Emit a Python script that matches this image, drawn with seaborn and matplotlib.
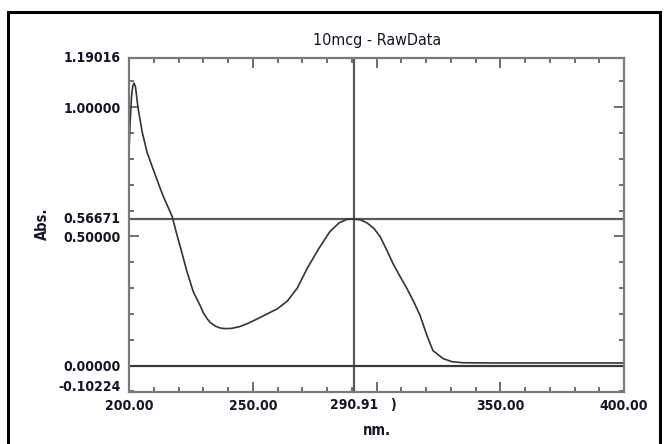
import matplotlib
matplotlib.use("Agg")
import matplotlib.pyplot as plt
import matplotlib.patches as mpatches
import matplotlib.transforms as mtransforms
from matplotlib.ticker import MultipleLocator, FixedLocator
import seaborn as sns
import pandas as pd

# ---- data ----
wavelength = [200.0, 200.4, 201.0, 201.5, 202.0, 202.6, 203.6, 204.5, 205.3, 207.3,
              210.5, 213.7, 217.4, 219.4, 221.5, 223.4, 226.0, 228.7, 230.0, 231.5,
              233.0, 235.0, 237.0, 239.0, 241.5, 244.8, 248.0, 251.7, 255.0, 260.0,
              264.0, 268.0, 272.0, 276.5, 281.2, 285.0, 288.1, 290.91, 293.5, 296.2,
              299.0, 301.4, 304.0, 306.7, 309.5, 312.3, 315.0, 317.6, 320.4, 322.8,
              326.9, 330.5, 335.0, 350.0, 375.0, 400.0]
absorbance = [0.83, 0.93, 1.04, 1.08, 1.093, 1.08, 1.00, 0.95, 0.905, 0.825,
              0.740, 0.658, 0.578, 0.505, 0.432, 0.364, 0.285, 0.233, 0.205, 0.182,
              0.165, 0.152, 0.145, 0.143, 0.144, 0.151, 0.163, 0.180, 0.196, 0.220,
              0.250, 0.300, 0.376, 0.450, 0.519, 0.553, 0.566, 0.56671, 0.564, 0.552,
              0.530, 0.500, 0.450, 0.394, 0.345, 0.298, 0.248, 0.194, 0.116, 0.058,
              0.027, 0.015, 0.011, 0.010, 0.010, 0.010]

title = "10mcg - RawData"
cursor_x = 290.91
cursor_y = 0.56671
y_min, y_max = -0.10224, 1.19016
x_min, x_max = 200.0, 400.0
x_major = [200, 250, 300, 350, 400]
x_labels = ["200.00", "250.00", "", "350.00", "400.00"]
y_major = [0.0, 0.5, 1.0]
y_labels = ["0.00000", "0.50000", "1.00000"]

df = pd.DataFrame({"nm": wavelength, "Abs": absorbance})

sns.set_style("ticks")
plt.rcParams["font.family"] = ["DejaVu Sans"]
plt.rcParams["font.stretch"] = "condensed"

W, H = 665, 444
fig = plt.figure(figsize=(W / 100, H / 100), dpi=100)
ax = fig.add_axes([129 / W, 1 - 392 / H, 495 / W, 334 / H])

sns.lineplot(data=df, x="nm", y="Abs", ax=ax, color="#333333", lw=1.2, sort=False)

ax.set_xlim(x_min, x_max)
ax.set_ylim(y_min, y_max)

ax.axvline(cursor_x, color="#5a5a5a", lw=1.6, zorder=1)
ax.axhline(cursor_y, color="#5a5a5a", lw=1.6, zorder=1)
ax.axhline(0.0, color="#3a3a3a", lw=1.6, zorder=1)

for s in ax.spines.values():
    s.set_color("#7a7a7a")
    s.set_linewidth(1.6)

ax.xaxis.set_major_locator(FixedLocator(x_major))
ax.set_xticklabels(x_labels)
ax.xaxis.set_minor_locator(MultipleLocator(10))
ax.yaxis.set_major_locator(FixedLocator(y_major))
ax.set_yticklabels(y_labels)
ax.yaxis.set_minor_locator(MultipleLocator(0.1))

ax.tick_params(which="both", direction="in", top=True, right=True,
               color="#555555", width=1.2)
ax.tick_params(which="major", length=7)
ax.tick_params(which="minor", length=3.5)
ax.tick_params(axis="y", which="major", pad=6)
ax.tick_params(axis="x", which="major", pad=5)
FS = 10
for lab in ax.get_xticklabels() + ax.get_yticklabels():
    lab.set_fontweight("bold")
    lab.set_fontsize(FS)
    lab.set_fontstretch("condensed")
    lab.set_color("#151525")

ax.set_xlabel("")
ax.set_ylabel("")

ytr = mtransforms.blended_transform_factory(ax.transAxes, ax.transData)
xtr = mtransforms.blended_transform_factory(ax.transData, ax.transAxes)
lab_kw = dict(fontweight="bold", fontsize=FS, color="#151525", fontstretch="condensed")
ax.text(-0.0165, y_max, "1.19016", transform=ytr, ha="right", va="center", **lab_kw)
ax.text(-0.0165, cursor_y, "0.56671", transform=ytr, ha="right", va="center", **lab_kw)
ax.text(-0.0165, y_min + 0.02, "-0.10224", transform=ytr, ha="right", va="center", **lab_kw)
ax.text(cursor_x, -0.019, "290.91", transform=xtr, ha="center", va="top", **lab_kw)
ax.text(306.6, -0.019, ")", transform=xtr, ha="center", va="top", **lab_kw)

fig.text(377 / W, 1 - 40 / H, title, ha="center", va="center", fontsize=11.5,
         fontstretch="condensed", color="#151525")
fig.text(377 / W, 1 - 430 / H, "nm.", ha="center", va="center", fontsize=10.5,
         fontweight="bold", fontstretch="condensed", color="#151525")
fig.text(42 / W, 1 - 224 / H, "Abs.", ha="center", va="center", rotation=90,
         fontsize=10.5, fontweight="bold", fontstretch="condensed", color="#151525")

frame = mpatches.Rectangle((8 / W, -0.05), (660 - 8) / W, 1.05 - 12 / H,
                           transform=fig.transFigure, fill=False,
                           edgecolor="black", lw=2.2)
fig.add_artist(frame)

fig.savefig("out.png", dpi=100)
